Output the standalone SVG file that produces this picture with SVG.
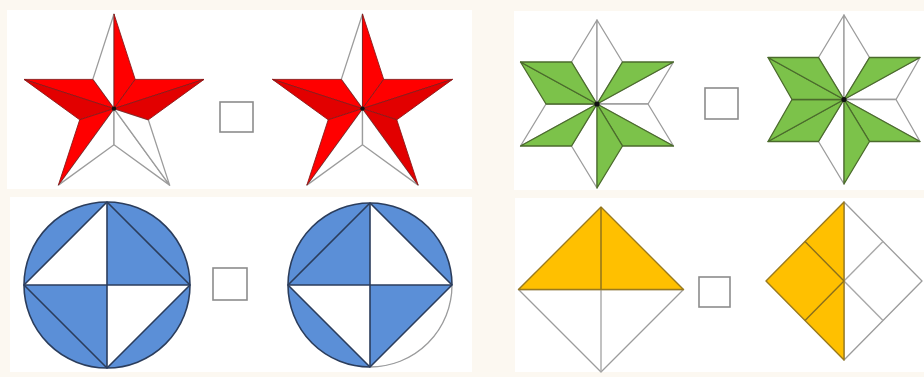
<svg xmlns="http://www.w3.org/2000/svg" width="924" height="377" viewBox="0 0 924 377">
<style>
.bg{fill:#fcf8f1}
.panel{fill:#ffffff}
.w{fill:#ffffff;stroke:#9c9c9c;stroke-width:1.3;stroke-linejoin:round}
.r1{fill:#ff0000;stroke:#8a1a1a;stroke-width:0.9;stroke-linejoin:round}
.r2{fill:#e20000;stroke:#8a1a1a;stroke-width:0.9;stroke-linejoin:round}
.g{fill:#7cc24a;stroke:#4b6b2c;stroke-width:1.3;stroke-linejoin:round}
.dot{fill:#111}
.blue{fill:#5b8fd7}
.bl{fill:none;stroke:#2b3d5c;stroke-width:1.6;stroke-linejoin:round}
.o{fill:#ffc000;stroke:#9a7a1e;stroke-width:1.4;stroke-linejoin:round}
.ol{fill:none;stroke:#8a6f1c;stroke-width:1.4}
.gl{fill:none;stroke:#a8a8a8;stroke-width:1.4}
.box{fill:#ffffff;stroke:#8c8c8c;stroke-width:1.6}
</style>
<rect class="bg" x="0" y="0" width="924" height="377"/>
<rect class="panel" x="7" y="10" width="465" height="179"/>
<rect class="panel" x="10" y="197" width="462" height="175"/>
<rect class="panel" x="514" y="11" width="410" height="179"/>
<rect class="panel" x="515" y="198" width="409" height="174"/>

<g id="star-red-1">
<polygon class="w" points="114,108.6 92.8,79.4 114,14"/>
<polygon class="w" points="114,108.6 58.4,185.1 114,144.7"/>
<polygon class="w" points="114,108.6 114,144.7 169.6,185.1"/>
<polygon class="w" points="114,108.6 169.6,185.1 148.3,119.8"/>
<polygon class="r1" points="114,108.6 114,14 135.2,79.4"/>
<polygon class="r1" points="114,108.6 135.2,79.4 204,79.4"/>
<polygon class="r2" points="114,108.6 204,79.4 148.3,119.8"/>
<polygon class="r1" points="114,108.6 92.8,79.4 24,79.4"/>
<polygon class="r2" points="114,108.6 24,79.4 79.7,119.8"/>
<polygon class="r1" points="114,108.6 79.7,119.8 58.4,185.1"/>
<circle class="dot" cx="114" cy="108.6" r="2.2"/>
</g>

<g id="box-1"><rect class="box" x="220" y="102" width="33" height="30"/></g>

<g id="star-red-2">
<polygon class="w" points="362.5,108.6 341.3,79.4 362.5,14"/>
<polygon class="w" points="362.5,108.6 306.9,185.1 362.5,144.7"/>
<polygon class="w" points="362.5,108.6 362.5,144.7 418.1,185.1"/>
<polygon class="r1" points="362.5,108.6 362.5,14 383.7,79.4"/>
<polygon class="r1" points="362.5,108.6 383.7,79.4 452.5,79.4"/>
<polygon class="r2" points="362.5,108.6 452.5,79.4 396.8,119.8"/>
<polygon class="r2" points="362.5,108.6 396.8,119.8 418.1,185.1"/>
<polygon class="r1" points="362.5,108.6 341.3,79.4 272.5,79.4"/>
<polygon class="r2" points="362.5,108.6 272.5,79.4 328.2,119.8"/>
<polygon class="r1" points="362.5,108.6 328.2,119.8 306.9,185.1"/>
<circle class="dot" cx="362.5" cy="108.6" r="2.2"/>
</g>

<g id="star-green-1">
<polygon class="w" points="597,104 571.5,62 597,20"/>
<polygon class="w" points="597,104 597,20 622.5,62"/>
<polygon class="w" points="597,104 673.5,62 648,104"/>
<polygon class="w" points="597,104 648,104 673.5,146"/>
<polygon class="w" points="597,104 597,188 571.5,146"/>
<polygon class="w" points="597,104 520.5,146 546,104"/>
<polygon class="g" points="597,104 622.5,62 673.5,62"/>
<polygon class="g" points="597,104 673.5,146 622.5,146"/>
<polygon class="g" points="597,104 622.5,146 597,188"/>
<polygon class="g" points="597,104 571.5,146 520.5,146"/>
<polygon class="g" points="597,104 546,104 520.5,62"/>
<polygon class="g" points="597,104 520.5,62 571.5,62"/>
<circle class="dot" cx="597" cy="104" r="2.6"/>
</g>

<g id="box-2"><rect class="box" x="705" y="88" width="33" height="31"/></g>

<g id="star-green-2">
<polygon class="w" points="844,99.5 818.5,57.5 844,15"/>
<polygon class="w" points="844,99.5 844,15 869.5,57.5"/>
<polygon class="w" points="844,99.5 920,57.5 896,99.5"/>
<polygon class="w" points="844,99.5 896,99.5 920,141.5"/>
<polygon class="w" points="844,99.5 844,184 818.5,141.5"/>
<polygon class="g" points="844,99.5 869.5,57.5 920,57.5"/>
<polygon class="g" points="844,99.5 920,141.5 869.5,141.5"/>
<polygon class="g" points="844,99.5 869.5,141.5 844,184"/>
<polygon class="g" points="844,99.5 818.5,141.5 768,141.5"/>
<polygon class="g" points="844,99.5 768,141.5 792,99.5"/>
<polygon class="g" points="844,99.5 792,99.5 768,57.5"/>
<polygon class="g" points="844,99.5 768,57.5 818.5,57.5"/>
<circle class="dot" cx="844" cy="99.5" r="2.6"/>
</g>

<g id="circle-1">
<circle class="blue" cx="107" cy="285" r="83"/>
<polygon fill="#ffffff" points="107,285 107,202 24,285"/>
<polygon fill="#ffffff" points="107,285 190,285 107,368"/>
<circle class="bl" cx="107" cy="285" r="83"/>
<polygon class="bl" points="107,202 190,285 107,368 24,285"/>
<line class="bl" x1="107" y1="202" x2="107" y2="368"/>
<line class="bl" x1="24" y1="285" x2="190" y2="285"/>
</g>

<g id="box-3"><rect class="box" x="213" y="268" width="34" height="32"/></g>

<g id="circle-2">
<circle class="blue" cx="370" cy="285" r="82"/>
<path fill="#ffffff" d="M452,285 A82,82 0 0 1 370,367 Z"/>
<polygon fill="#ffffff" points="370,285 370,203 452,285"/>
<polygon fill="#ffffff" points="370,285 288,285 370,367"/>
<path class="bl" d="M370,367 A82,82 0 1 1 452,285"/>
<path fill="none" stroke="#9c9c9c" stroke-width="1.3" d="M452,285 A82,82 0 0 1 370,367"/>
<polygon class="bl" points="370,203 452,285 370,367 288,285"/>
<line class="bl" x1="370" y1="203" x2="370" y2="367"/>
<line class="bl" x1="288" y1="285" x2="452" y2="285"/>
</g>

<g id="diamond-1">
<polygon class="w" points="518.5,289.5 601,372 683.5,289.5"/>
<line class="gl" x1="601" y1="289.5" x2="601" y2="372"/>
<polygon class="o" points="601,207 683.5,289.5 518.5,289.5"/>
<line class="ol" x1="601" y1="207" x2="601" y2="289.5"/>
</g>

<g id="box-4"><rect class="box" x="699" y="277" width="31" height="30"/></g>

<g id="diamond-2">
<polygon class="w" points="844,202 922,281 844,360"/>
<line class="gl" x1="844" y1="281" x2="883" y2="241.5"/>
<line class="gl" x1="844" y1="281" x2="883" y2="320.5"/>
<polygon class="o" points="844,202 766,281 844,360"/>
<line class="ol" x1="805" y1="241.5" x2="844" y2="281"/>
<line class="ol" x1="805" y1="320.5" x2="844" y2="281"/>
</g>
</svg>
